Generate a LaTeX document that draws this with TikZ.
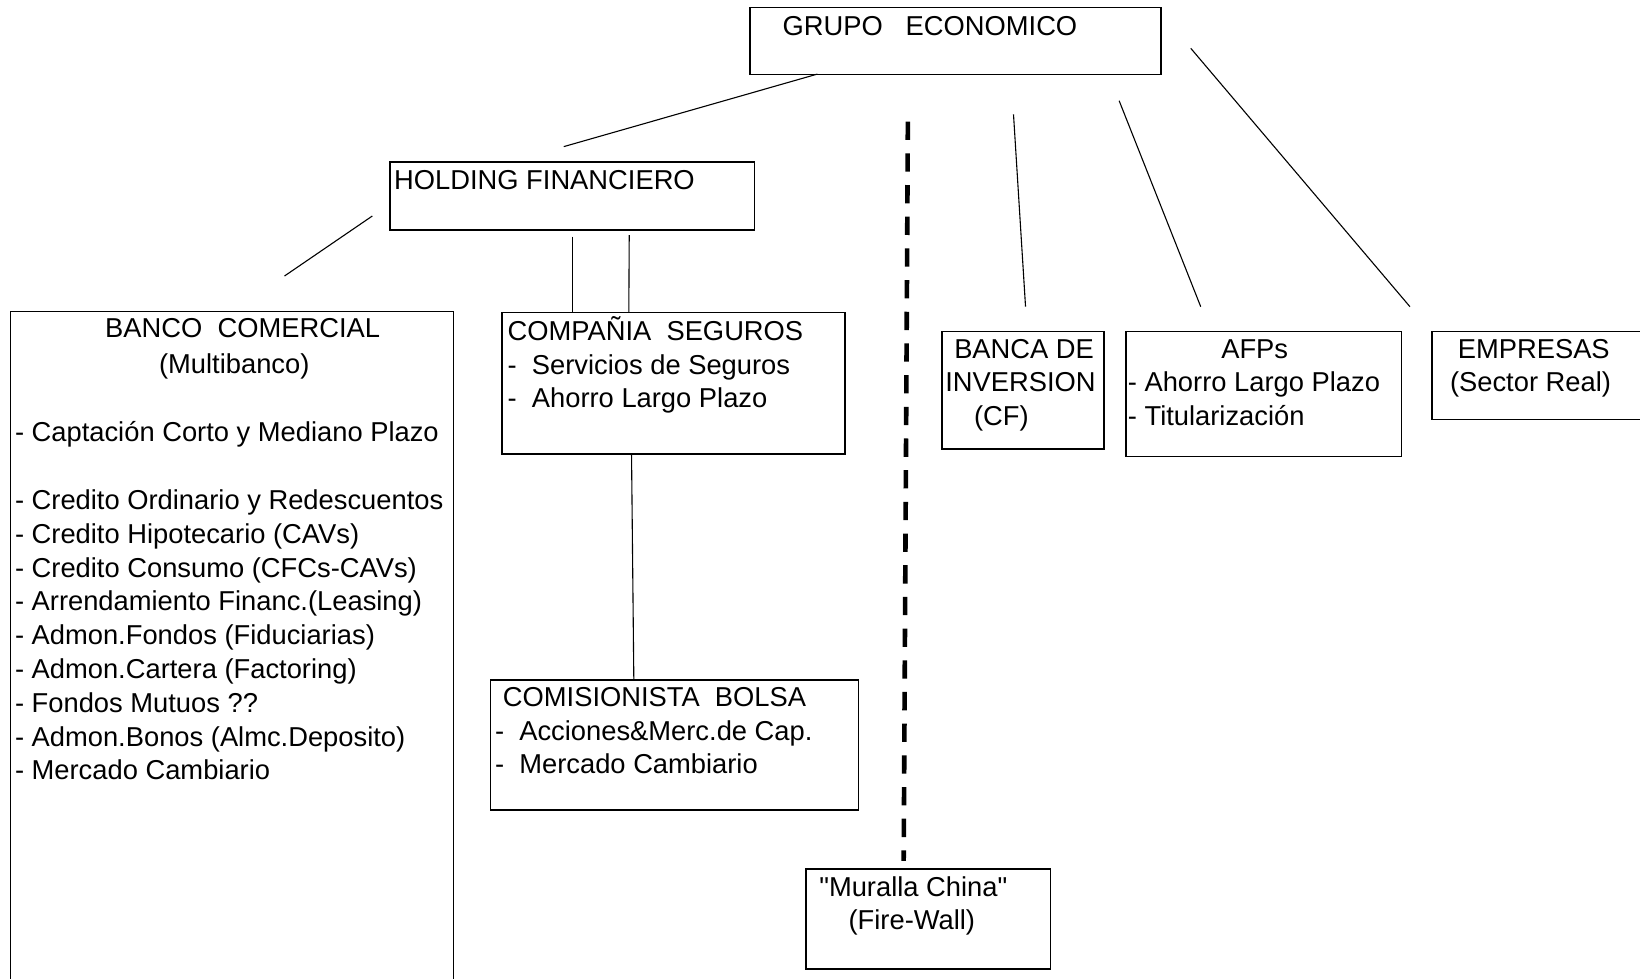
\documentclass[tikz,border=0pt]{standalone}
\usepackage{fontspec}
\setmainfont{Liberation Sans}
\usetikzlibrary{fit}
\begin{document}
\begin{tikzpicture}[x=0.02cm,y=-0.02cm,
  box/.style={draw,line width=0.8pt,inner sep=0pt,fill=none},
  txt/.style={anchor=base west,inner sep=0pt,font=\fontsize{14.87pt}{18.4pt}\selectfont},
  ctxt/.style={anchor=base,inner sep=0pt,font=\fontsize{14.87pt}{18.4pt}\selectfont},
  conn/.style={line width=0.6pt},
  wall/.style={line width=2.5pt,dash pattern=on 0.35cm off 0.256cm}]
\clip (0,0) rectangle (1568,936);
\fill[white] (0,0) rectangle (1568,936);
% boxes
\node[box,fit={(717,7)(1110,71)}] (grupo) {};
\node[box,fit={(373,155)(721.6,220)}] (holding) {};
\node[box,fit={(10,298)(433.6,980)}] (banco) {};
\node[box,fit={(480,299)(808,434)}] (seguros) {};
\node[box,fit={(469,650)(821,774.5)}] (bolsa) {};
\node[box,fit={(770.7,831)(1004.5,926.5)}] (muralla) {};
\node[box,fit={(900.7,317)(1055.5,429.3)}] (banca) {};
\node[box,fit={(1076.6,317)(1340.2,436.6)}] (afps) {};
\node[box,fit={(1369,317)(1620,401)}] (empresas) {};
% texts
\node[txt] (tgrupo) at (748,33.5) {GRUPO\ \ \ ECONOMICO};
\node[txt] (tholding) at (376.5,181) {HOLDING FINANCIERO};
\node[ctxt] (tb1) at (232,323) {BANCO\ \ COMERCIAL};
\node[ctxt] (tb2) at (224,357) {(Multibanco)};
\node[txt] (tb3) at (14,422) {- Captación Corto y Mediano Plazo};
\node[txt] (tb4) at (14,487) {- Credito Ordinario y Redescuentos};
\node[txt] (tb5) at (14,519.3) {- Credito Hipotecario (CAVs)};
\node[txt] (tb6) at (14,551.7) {- Credito Consumo (CFCs-CAVs)};
\node[txt] (tb7) at (14,584) {- Arrendamiento Financ.(Leasing)};
\node[txt] (tb8) at (14,616.4) {- Admon.Fondos (Fiduciarias)};
\node[txt] (tb9) at (14,648.7) {- Admon.Cartera (Factoring)};
\node[txt] (tb10) at (14,681) {- Fondos Mutuos ??};
\node[txt] (tb11) at (14,713.4) {- Admon.Bonos (Almc.Deposito)};
\node[txt] (tb12) at (14,745.7) {- Mercado Cambiario};
\node[txt] (ts1) at (485,325.3) {COMPAÑIA\ \ SEGUROS};
\node[txt] (ts2) at (485,358) {-\ \ Servicios de Seguros};
\node[txt] (ts3) at (485,390) {-\ \ Ahorro Largo Plazo};
\node[txt] (tc1) at (480.5,675) {COMISIONISTA\ \ BOLSA};
\node[txt] (tc2) at (473,708) {-\ \ Acciones\&Merc.de Cap.};
\node[txt] (tc3) at (473,739.5) {-\ \ Mercado Cambiario};
\node[txt] (tm1) at (783,857.5) {\textquotedbl Muralla China\textquotedbl};
\node[txt] (tm2) at (811,889) {(Fire-Wall)};
\node[txt] (ti1) at (912,342.6) {BANCA DE};
\node[txt] (ti2) at (903.5,374.5) {INVERSION};
\node[txt] (ti3) at (931,406.5) {(CF)};
\node[ctxt] (ta1) at (1199.6,342.6) {AFPs};
\node[txt] (ta2) at (1078,374.5) {- Ahorro Largo Plazo};
\node[txt] (ta3) at (1078,406.5) {- Titularización};
\node[txt] (te1) at (1393.5,342.6) {EMPRESAS};
\node[txt] (te2) at (1386,374.5) {(Sector Real)};
% connector end points
\coordinate (c1a) at (781.6,70.8);
\coordinate (c1b) at (539,140.2);
\coordinate (c2a) at (356,206.5);
\coordinate (c2b) at (272,263.9);
\coordinate (c3a) at (547.6,226.3);
\coordinate (c3b) at (547.6,299);
\coordinate (c4a) at (601.6,224.7);
\coordinate (c4b) at (601.2,299);
\coordinate (c5a) at (603.8,434);
\coordinate (c5b) at (606,650);
\coordinate (c6a) at (969,109.3);
\coordinate (c6b) at (980.5,293.2);
\coordinate (c7a) at (1070,96.3);
\coordinate (c7b) at (1148,293.2);
\coordinate (c8a) at (1138.5,46.2);
\coordinate (c8b) at (1348,293.2);
\coordinate (w1) at (868,116.3);
\coordinate (w2) at (864,823);
% connectors
\draw[conn] (c1a) -- (c1b);
\draw[conn] (c2a) -- (c2b);
\draw[conn] (c3a) -- (c3b);
\draw[conn] (c4a) -- (c4b);
\draw[conn] (c5a) -- (c5b);
\draw[conn] (c6a) -- (c6b);
\draw[conn] (c7a) -- (c7b);
\draw[conn] (c8a) -- (c8b);
\draw[wall] (w1) -- (w2);
\end{tikzpicture}
\end{document}
